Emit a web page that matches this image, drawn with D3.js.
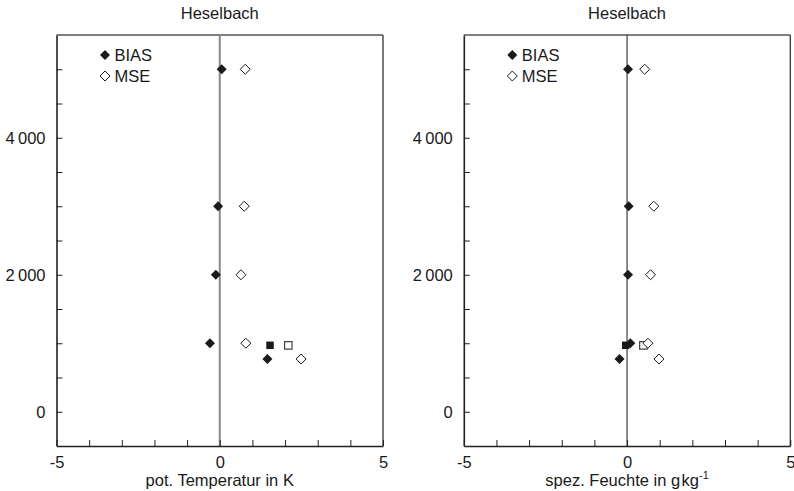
<!DOCTYPE html>
<html>
<head>
<meta charset="utf-8">
<script src="https://cdn.jsdelivr.net/npm/d3@7"></script>
<style>
  html, body { margin: 0; padding: 0; background: #fff; }
  svg { display: block; }
  text { font-family: "Liberation Sans", Arial, Helvetica, sans-serif; fill: #1a1a1a; }
</style>
</head>
<body>
<svg id="chart" width="794" height="491"></svg>
<script>
// Heights of the evaluation levels (m)
const levels = [5000, 3000, 2000, 1000, 770];
// Extra level shown with square markers
const squareLevel = [970];

// Potential temperature (K)
const tempBias = [0.06, -0.05, -0.12, -0.30, 1.46];
const tempMse = [0.78, 0.75, 0.65, 0.80, 2.49];
const tempBiasSquare = [1.54];
const tempMseSquare = [2.10];

// Specific humidity (g/kg)
const humBias = [0.03, 0.05, 0.03, 0.10, -0.23];
const humMse = [0.54, 0.82, 0.72, 0.64, 0.98];
const humBiasSquare = [-0.04];
const humMseSquare = [0.50];

const xTickValues = [-5, -4, -3, -2, -1, 0, 1, 2, 3, 4, 5];
const xTickLabels = ["-5", "0", "5"];
const yTickValues = [0, 500, 1000, 1500, 2000, 2500, 3000, 3500, 4000, 4500, 5000];
const yTickLabels = ["0", "2\u2009000", "4\u2009000"];
const legendLabels = ["BIAS", "MSE"];
const titles = ["Heselbach", "Heselbach"];

const svg = d3.select("#chart");
const plotTop = 35, plotBottom = 446, plotW = 326.5;
const fontSize = "16.5px";

const y = d3.scaleLinear().domain([-500, 5500]).range([plotBottom, plotTop]);

const diamond = d3.symbol().type(d3.symbolDiamond2).size(64);
const square = d3.symbol().type(d3.symbolSquare).size(56);

function panel(left, title, bias, mse, biasSq, mseSq, opts) {
  const x = d3.scaleLinear().domain([-5, 5]).range([left, left + plotW]);
  const g = svg.append("g");

  // frame: top and right borders
  g.append("line").attr("x1", left).attr("x2", left + plotW)
    .attr("y1", plotTop).attr("y2", plotTop).attr("stroke", "#555").attr("stroke-width", 1.5);
  g.append("line").attr("x1", left + plotW).attr("x2", left + plotW)
    .attr("y1", plotTop).attr("y2", plotBottom).attr("stroke", "#333").attr("stroke-width", 1.3);

  // zero line
  g.append("line").attr("x1", x(0)).attr("x2", x(0))
    .attr("y1", plotTop).attr("y2", plotBottom)
    .attr("stroke", opts.zeroColor).attr("stroke-width", opts.zeroWidth);

  // bottom axis, ticks pointing inward
  const xAxis = d3.axisBottom(x).tickValues(xTickValues).tickSizeInner(-6).tickSizeOuter(0)
    .tickFormat(d => xTickLabels.includes(String(d)) ? String(d) : "");
  const gx = g.append("g").attr("transform", `translate(0,${plotBottom})`).call(xAxis);
  gx.select(".domain").attr("stroke", "#222").attr("stroke-width", 1.6);
  gx.selectAll(".tick line").attr("stroke", "#222").attr("stroke-width", 1);
  gx.selectAll(".tick text").attr("dy", 0).attr("y", 22)
    .style("font-size", fontSize).attr("fill", "#1a1a1a")
    .style("font-family", '"Liberation Sans", Arial, sans-serif');

  // left axis, ticks pointing inward
  const labelFor = d => d === 0 ? yTickLabels[0] : d === 2000 ? yTickLabels[1] : d === 4000 ? yTickLabels[2] : "";
  const yAxis = d3.axisLeft(y).tickValues(yTickValues).tickSizeInner(-6).tickSizeOuter(0)
    .tickFormat(labelFor);
  const gy = g.append("g").attr("transform", `translate(${left},0)`).call(yAxis);
  gy.select(".domain").attr("stroke", "#222").attr("stroke-width", 1.6);
  gy.selectAll(".tick line").attr("stroke", "#222").attr("stroke-width", 1);
  gy.selectAll(".tick text").attr("x", -11).attr("dy", "0.36em")
    .style("font-size", fontSize).attr("fill", "#1a1a1a")
    .style("font-family", '"Liberation Sans", Arial, sans-serif');

  // title
  g.append("text").attr("x", left + plotW / 2).attr("y", 19)
    .attr("text-anchor", "middle").style("font-size", fontSize).text(title);

  // x label
  opts.xLabel(g.append("text").attr("x", x(0)).attr("y", 486)
    .attr("text-anchor", "middle").style("font-size", fontSize));

  // squares (extra level)
  g.selectAll(".sqm").data(mseSq).join("path")
    .attr("d", square).attr("transform", d => `translate(${x(d)},${y(squareLevel[0])})`)
    .attr("fill", "#fff").attr("stroke", "#444").attr("stroke-width", 1.2);
  g.selectAll(".sqb").data(biasSq).join("path")
    .attr("d", square).attr("transform", d => `translate(${x(d)},${y(squareLevel[0])})`)
    .attr("fill", "#1a1a1a");

  // MSE diamonds (open)
  g.selectAll(".mse").data(mse).join("path")
    .attr("d", diamond).attr("transform", (d, i) => `translate(${x(d)},${y(levels[i])})`)
    .attr("fill", "#fff").attr("stroke", "#1a1a1a").attr("stroke-width", 1);
  // BIAS diamonds (filled)
  g.selectAll(".bias").data(bias).join("path")
    .attr("d", diamond).attr("transform", (d, i) => `translate(${x(d)},${y(levels[i])})`)
    .attr("fill", "#1a1a1a");

  // legend
  const lx = left + 48.5;
  const leg = g.append("g");
  leg.append("path").attr("d", diamond).attr("transform", `translate(${lx},55)`).attr("fill", "#1a1a1a");
  leg.append("path").attr("d", diamond).attr("transform", `translate(${lx},76)`)
    .attr("fill", "#fff").attr("stroke", "#1a1a1a").attr("stroke-width", 1);
  leg.append("text").attr("x", lx + 9.5).attr("y", 61).style("font-size", fontSize).text(legendLabels[0]);
  leg.append("text").attr("x", lx + 9.5).attr("y", 82).style("font-size", fontSize).text(legendLabels[1]);
}

panel(56.5, titles[0], tempBias, tempMse, tempBiasSquare, tempMseSquare, {
  zeroColor: "#888", zeroWidth: 2,
  xLabel: t => t.text("pot. Temperatur in K")
});

panel(463.8, titles[1], humBias, humMse, humBiasSquare, humMseSquare, {
  zeroColor: "#1a1a1a", zeroWidth: 1,
  xLabel: t => {
    t.append("tspan").text("spez. Feuchte in g\u200Akg");
    t.append("tspan").attr("dy", -7).style("font-size", "11px").text("-1");
  }
});
</script>
</body>
</html>
